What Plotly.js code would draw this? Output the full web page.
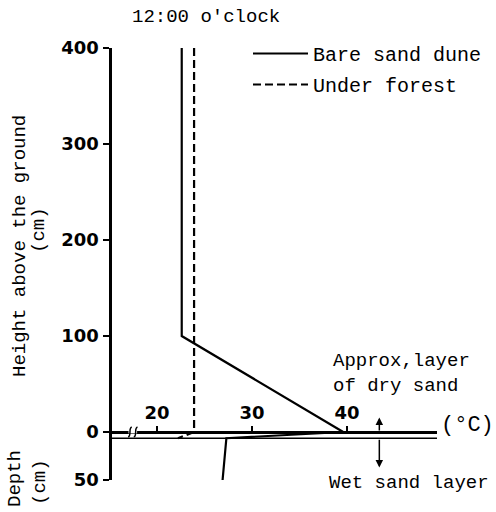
<!DOCTYPE html>
<html>
<head>
<meta charset="utf-8">
<script src="https://cdn.plot.ly/plotly-3.0.1.min.js"></script>
<style>html,body{margin:0;padding:0;background:#fff;}#chart{width:496px;height:512px;}</style>
</head>
<body>
<div id="chart"></div>
<script>
// Temperature profiles at 12:00 (x = temperature °C, y = height above ground in cm; negative = depth)
const bareTemp   = [22.6, 22.6, 39.6, 27.3, 26.9];
const bareHeight = [400, 100, 0, -6.5, -50];
const forestTemp   = [23.9, 23.9, 22.2];
const forestHeight = [400, 0, -6.5];
const yTickVals = [-50, 0, 100, 200, 300, 400];
const yTickText = ['50', '0', '100', '200', '300', '400'];
const xTickVals = [20, 30, 40];
const xTickText = ['20', '30', '40'];
const seriesNames = ['Bare sand dune', 'Under forest'];
const dryLayerDepth = -6.5;

const mono = 'Liberation Mono, Courier New, monospace';
const boldSans = 'DejaVu Sans, sans-serif';
const py = p => (480 - p) / 432;   // pixel row -> paper y
const px = p => (p - 112) / 325;   // pixel col -> paper x

const traces = [
  {x: bareTemp, y: bareHeight, type: 'scatter', mode: 'lines', name: seriesNames[0],
   line: {color: '#000', width: 2.2}, legendgroup: 'a', cliponaxis: false},
  {x: forestTemp, y: forestHeight, type: 'scatter', mode: 'lines', name: seriesNames[1],
   line: {color: '#000', width: 2.2, dash: '8px,4px'}, legendgroup: 'b', cliponaxis: false}
];

const layout = {
  width: 496, height: 512,
  margin: {l: 112, r: 59, t: 48, b: 32, autoexpand: false},
  paper_bgcolor: '#fff', plot_bgcolor: '#fff',
  title: {text: "12:00 o'clock", font: {family: mono, size: 19, color: '#000'},
          xref: 'container', x: 132/496, xanchor: 'left', yref: 'container', y: 1 - 15/512, yanchor: 'middle'},
  showlegend: true,
  legend: {x: px(248), xanchor: 'left', y: py(34), yanchor: 'top', bgcolor: 'rgba(0,0,0,0)',
           font: {family: mono, size: 20, color: '#000'}, tracegroupgap: 2, itemwidth: 55},
  xaxis: {range: [15.26, 49.47], side: 'top', anchor: 'free', position: 48/432,
          showline: true, linecolor: '#000', linewidth: 3, showgrid: false, zeroline: false,
          ticks: 'outside', ticklen: 5, tickwidth: 2, tickcolor: '#000',
          tickvals: xTickVals, ticktext: xTickText, automargin: false,
          tickfont: {family: boldSans, size: 18, color: '#000', weight: 'bold'}},
  yaxis: {range: [-50, 400], showline: true, linecolor: '#000', linewidth: 3.5,
          showgrid: false, zeroline: false, ticks: 'outside', ticklen: 6, tickwidth: 2, tickcolor: '#000',
          tickvals: yTickVals, ticktext: yTickText, automargin: false,
          tickfont: {family: boldSans, size: 18, color: '#000', weight: 'bold'}},
  shapes: [
    {type: 'line', xref: 'paper', x0: 0, x1: 1, yref: 'y', y0: dryLayerDepth, y1: dryLayerDepth,
     line: {color: '#000', width: 1.5}},
    // axis break mark
    {type: 'rect', xref: 'x', yref: 'y', x0: 17.0, x1: 17.9, y0: -1.5, y1: 1.5,
     fillcolor: '#fff', line: {width: 0}},
    {type: 'path', xref: 'x', yref: 'y', path: 'M 16.95 -5 C 17.35 -5, 16.95 5, 17.35 5',
     line: {color: '#000', width: 1.5}},
    {type: 'path', xref: 'x', yref: 'y', path: 'M 17.55 -5 C 17.95 -5, 17.55 5, 17.95 5',
     line: {color: '#000', width: 1.5}}
  ],
  annotations: [
    {text: 'Height above the ground', xref: 'paper', x: px(20), yref: 'paper', y: py(246),
     textangle: -90, showarrow: false, xanchor: 'center', yanchor: 'middle',
     font: {family: mono, size: 19, color: '#000'}},
    {text: '(cm)', xref: 'paper', x: px(39), yref: 'paper', y: py(230),
     textangle: -90, showarrow: false, xanchor: 'center', yanchor: 'middle',
     font: {family: mono, size: 19, color: '#000'}},
    {text: 'Depth', xref: 'paper', x: px(15), yref: 'paper', y: py(479),
     textangle: -90, showarrow: false, xanchor: 'center', yanchor: 'middle',
     font: {family: mono, size: 19, color: '#000'}},
    {text: '(cm)', xref: 'paper', x: px(40), yref: 'paper', y: py(482),
     textangle: -90, showarrow: false, xanchor: 'center', yanchor: 'middle',
     font: {family: mono, size: 19, color: '#000'}},
    {text: 'Approx,layer<br>of dry sand', xref: 'paper', x: px(331), yref: 'paper', y: py(373),
     showarrow: false, xanchor: 'left', yanchor: 'middle', align: 'left',
     font: {family: mono, size: 19, color: '#000'}},
    {text: '(°C)', xref: 'paper', x: px(439), yref: 'paper', y: py(425),
     showarrow: false, xanchor: 'left', yanchor: 'middle',
     font: {family: mono, size: 22, color: '#000'}},
    {text: 'Wet sand layer', xref: 'paper', x: px(327), yref: 'paper', y: py(483),
     showarrow: false, xanchor: 'left', yanchor: 'middle',
     font: {family: mono, size: 19, color: '#000'}},
    {text: '', x: 43.4, y: 15, ax: 43.4, ay: 0, xref: 'x', yref: 'y', axref: 'x', ayref: 'y',
     showarrow: true, arrowhead: 2, arrowsize: 1, arrowwidth: 1.5, arrowcolor: '#000'},
    {text: '', x: 43.4, y: -37, ax: 43.4, ay: -6.5, xref: 'x', yref: 'y', axref: 'x', ayref: 'y',
     showarrow: true, arrowhead: 2, arrowsize: 1, arrowwidth: 1.5, arrowcolor: '#000'}
  ]
};

Plotly.newPlot('chart', traces, layout, {displayModeBar: false, staticPlot: true});
</script>
</body>
</html>
